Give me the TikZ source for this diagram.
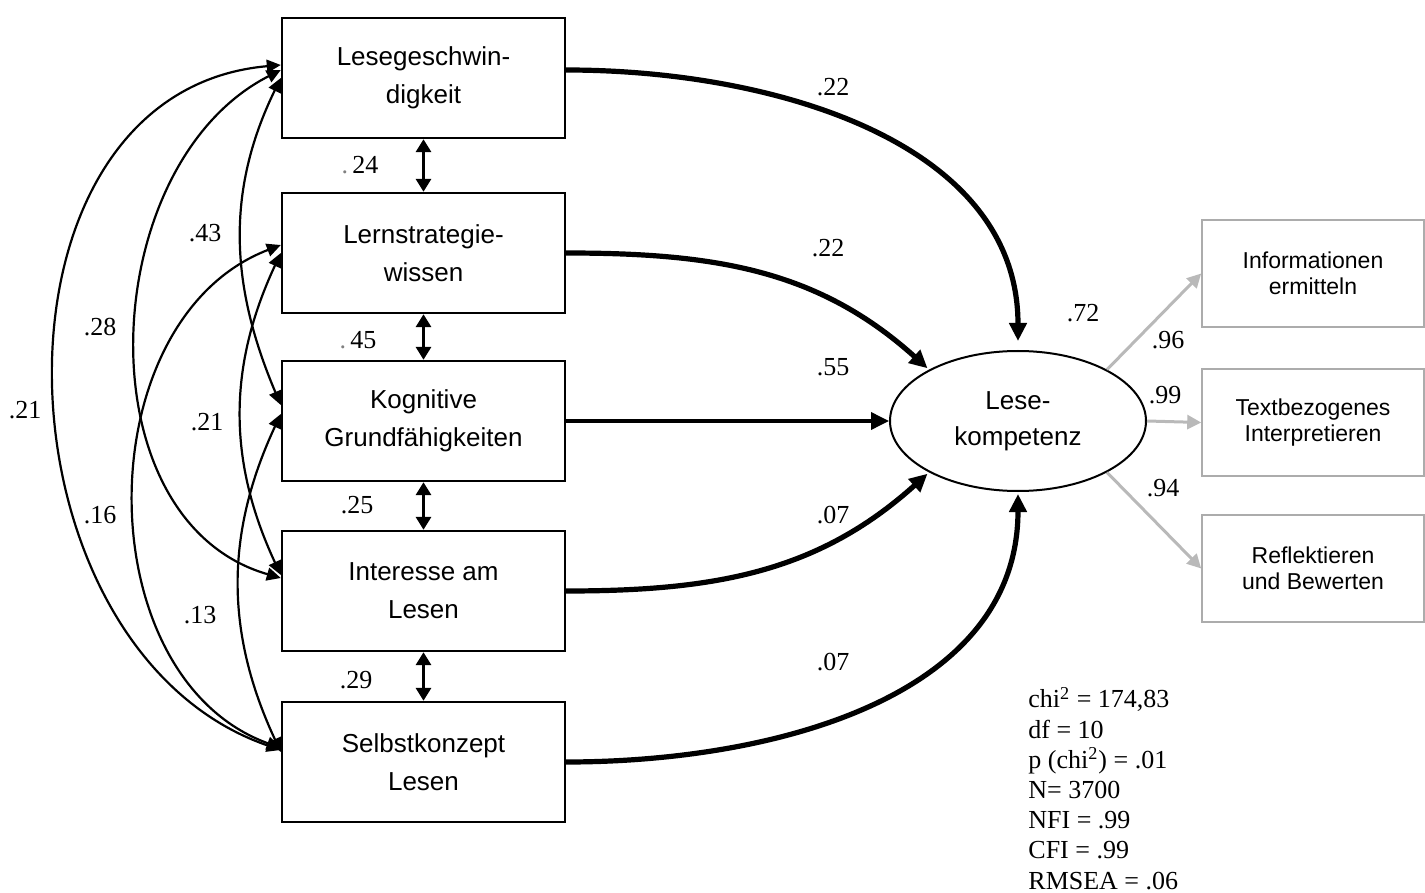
\documentclass[tikz,border=0pt]{standalone}
\usepackage{fontspec}
\setmainfont{Liberation Serif}
\setsansfont{Liberation Sans}
\usetikzlibrary{arrows.meta, shapes.geometric, positioning}

\begin{document}
\begin{tikzpicture}[x=0.5pt, y=0.5pt,
	box/.style={draw, line width=1.2pt, minimum width=141.5pt, minimum height=60pt, inner sep=0pt, align=center, font=\sffamily\fontsize{13}{19}\selectfont},
	latent/.style={draw, ellipse, line width=1pt, minimum width=128pt, minimum height=70pt, inner sep=0pt, align=center, font=\sffamily\fontsize{13}{18}\selectfont},
	ind/.style={draw=gray!65, line width=0.8pt, minimum width=111pt, minimum height=53.5pt, inner sep=0pt, align=center, font=\sffamily\fontsize{11.5}{13}\selectfont},
	num/.style={font=\fontsize{13}{15}\selectfont, inner sep=0pt},
	cov/.style={line width=1.1pt, {Triangle[length=7pt, width=6.5pt]}-{Triangle[length=7pt, width=6.5pt]}},
	corr/.style={line width=1.9pt, {Triangle[length=6.5pt, width=7.5pt]}-{Triangle[length=6.5pt, width=7.5pt]}},
	effect/.style={line width=2.6pt, -{Triangle[length=9pt, width=8.5pt]}},
	load/.style={draw=gray!55, line width=1.5pt, -{Triangle[length=7pt, width=7pt]}}]
	\useasboundingbox (0,0) rectangle (1425,-893);

	% predictors
	\node[box] (b1) at (423.5,-78) {Lesegeschwin-\\digkeit};
	\node[box] (b2) at (423.5,-253) {Lernstrategie-\\wissen};
	\node[box] (b3) at (423.5,-421) {Kognitive\\Grundf\"ahigkeiten};
	\node[box] (b4) at (423.5,-591) {Interesse am\\Lesen};
	\node[box] (b5) at (423.5,-762) {Selbstkonzept\\Lesen};

	% latent variable and indicators
	\node[latent] (lk) at (1018,-421) {Lese-\\kompetenz};
	\node[ind] (ie) at (1313,-273.5) {Informationen\\ermitteln};
	\node[ind] (ti) at (1313,-422.5) {Textbezogenes\\Interpretieren};
	\node[ind] (rb) at (1313,-568.5) {Reflektieren\\und Bewerten};

	% neighbouring correlations
	\draw[corr] (b1) -- (b2);
	\draw[corr] (b2) -- (b3);
	\draw[corr] (b3) -- (b4);
	\draw[corr] (b4) -- (b5);
	\node[num] (r12) at (360,-165) {{\color{gray}.}\,24};
	\node[num] (r23) at (358,-340) {{\color{gray}.}\,45};
	\node[num] (r34) at (357,-505) {.25};
	\node[num] (r45) at (356,-680) {.29};

	% other correlations
	\draw[cov] ([yshift=6.5pt]b1.west) to[out=185, in=161, looseness=1.16] ([yshift=6pt]b5.west);
	\draw[cov] ([yshift=4pt]b1.west) to[out=207, in=164, looseness=1.05] ([yshift=6.5pt]b4.west);
	\draw[cov] (b1.west) to[out=244, in=113, looseness=1] ([yshift=8pt]b3.west);
	\draw[cov] ([yshift=4pt]b2.west) to[out=201, in=160, looseness=1.06] ([yshift=7pt]b5.west);
	\draw[cov] (b2.west) to[out=245, in=115] ([yshift=8pt]b4.west);
	\draw[cov] ([yshift=3.5pt]b3.west) to[out=245, in=115] ([yshift=5pt]b5.west);
	\node[num] (r13) at (205,-233) {.43};
	\node[num] (r14) at (100,-327) {.28};
	\node[num] (r15) at (25,-410) {.21};
	\node[num] (r24) at (207,-422) {.21};
	\node[num] (r25) at (100,-515) {.16};
	\node[num] (r35) at (200,-615) {.13};

	% paths to Lesekompetenz
	\draw[effect, shorten >=4.5pt] ([yshift=4pt]b1.east) to[out=0, in=90] (lk.north);
	\draw[effect, shorten >=1pt] (b2.east) to[out=0, in=138] (lk.150);
	\draw[effect, line width=1.8pt] (b3.east) -- (lk.west);
	\draw[effect, shorten >=1pt] (b4.east) to[out=0, in=222] (lk.210);
	\draw[effect, shorten >=1pt] (b5.east) to[out=0, in=270] (lk.south);
	\node[num] (p1) at (833,-87) {.22};
	\node[num] (p2) at (828,-248) {.22};
	\node[num] (p3) at (833,-367) {.55};
	\node[num] (p4) at (833,-515) {.07};
	\node[num] (p5) at (833,-662) {.07};
	\node[num] (rsq) at (1083,-313) {.72};

	% loadings
	\draw[load] (lk.30) -- (ie.west);
	\draw[load] (lk.east) -- (ti.west);
	\draw[load] (lk.-30) -- (rb.west);
	\node[num] (l1) at (1168,-340) {.96};
	\node[num] (l2) at (1165,-395) {.99};
	\node[num] (l3) at (1163,-488) {.94};

	% fit
	\node[anchor=base west, align=left, inner sep=0pt, font=\fontsize{13}{15.1}\selectfont] (fit) at (1028,-889)
		{chi\textsuperscript{2} = 174,83\\df = 10\\p (chi\textsuperscript{2}) = .01\\N= 3700\\NFI = .99\\CFI = .99\\RMSEA = .06};
\end{tikzpicture}
\end{document}
